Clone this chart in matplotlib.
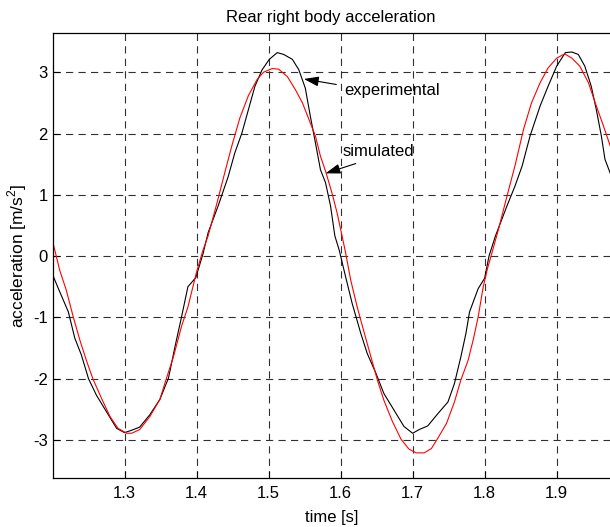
import matplotlib
matplotlib.use("Agg")
import matplotlib.pyplot as plt

# Experimental (black)
exp_t = [1.200, 1.210, 1.222, 1.231, 1.240, 1.250, 1.261, 1.275, 1.289, 1.300,
         1.310, 1.321, 1.335, 1.349, 1.361, 1.370, 1.379, 1.388, 1.399, 1.409,
         1.416, 1.430, 1.444, 1.453, 1.463, 1.472, 1.481, 1.491, 1.501, 1.512,
         1.521, 1.533, 1.542, 1.551, 1.558, 1.565, 1.572, 1.579, 1.586, 1.592,
         1.598, 1.607, 1.616, 1.628, 1.637, 1.649, 1.660, 1.674, 1.688, 1.700,
         1.709, 1.721, 1.735, 1.749, 1.758, 1.767, 1.774, 1.779, 1.791, 1.800,
         1.806, 1.815, 1.831, 1.842, 1.852, 1.863, 1.877, 1.888, 1.900, 1.912,
         1.921, 1.930, 1.939, 1.948, 1.955, 1.962, 1.967, 1.976]
exp_a = [-0.30, -0.58, -0.91, -1.34, -1.61, -2.00, -2.27, -2.54, -2.81, -2.88,
         -2.84, -2.79, -2.59, -2.34, -1.99, -1.48, -1.00, -0.50, -0.35, 0.04,
         0.38, 0.82, 1.30, 1.68, 2.01, 2.39, 2.77, 3.04, 3.21, 3.32,
         3.29, 3.21, 3.04, 2.74, 2.28, 1.85, 1.41, 1.20, 0.82, 0.33,
         0.10, -0.34, -0.77, -1.26, -1.59, -1.91, -2.24, -2.51, -2.78, -2.89,
         -2.83, -2.77, -2.57, -2.38, -2.08, -1.64, -1.26, -0.91, -0.53, -0.36,
         0.00, 0.33, 0.82, 1.14, 1.47, 1.96, 2.45, 2.77, 3.10, 3.32,
         3.33, 3.29, 3.10, 2.77, 2.39, 1.96, 1.58, 1.30]

# Simulated (red)
sim_t = [1.200, 1.210, 1.219, 1.229, 1.238, 1.247, 1.256, 1.268, 1.280, 1.291,
         1.303, 1.310, 1.321, 1.335, 1.349, 1.358, 1.368, 1.379, 1.388, 1.400,
         1.409, 1.416, 1.428, 1.440, 1.449, 1.460, 1.472, 1.484, 1.493, 1.505,
         1.514, 1.526, 1.537, 1.547, 1.556, 1.565, 1.572, 1.579, 1.588, 1.595,
         1.602, 1.607, 1.614, 1.623, 1.633, 1.642, 1.651, 1.660, 1.672, 1.684,
         1.695, 1.705, 1.716, 1.726, 1.735, 1.747, 1.758, 1.767, 1.777, 1.784,
         1.791, 1.798, 1.804, 1.810, 1.819, 1.831, 1.842, 1.854, 1.865, 1.877,
         1.888, 1.900, 1.911, 1.921, 1.932, 1.944, 1.955, 1.965, 1.976]
sim_a = [0.25, -0.23, -0.55, -1.00, -1.37, -1.70, -2.00, -2.32, -2.62, -2.81,
         -2.89, -2.89, -2.83, -2.62, -2.34, -2.00, -1.64, -1.15, -0.83, -0.26,
         0.10, 0.33, 0.85, 1.40, 1.80, 2.25, 2.62, 2.88, 3.00, 3.06,
         3.05, 2.93, 2.72, 2.50, 2.23, 1.96, 1.63, 1.39, 1.03, 0.71,
         0.33, 0.05, -0.39, -0.83, -1.26, -1.64, -2.02, -2.35, -2.70, -2.99,
         -3.15, -3.21, -3.21, -3.14, -2.97, -2.73, -2.38, -2.02, -1.70, -1.37,
         -0.99, -0.50, -0.20, 0.05, 0.43, 0.98, 1.47, 2.07, 2.50, 2.83,
         3.07, 3.23, 3.30, 3.23, 3.10, 2.83, 2.45, 2.12, 1.74]

x_ticks = [1.3, 1.4, 1.5, 1.6, 1.7, 1.8, 1.9]
y_ticks = [-3, -2, -1, 0, 1, 2, 3]

plt.rcParams['font.family'] = ['Liberation Sans', 'DejaVu Sans']
plt.rcParams['lines.scale_dashes'] = False
plt.rcParams['mathtext.fontset'] = 'custom'
plt.rcParams['mathtext.rm'] = 'Liberation Sans'

fig = plt.figure(figsize=(6.10, 5.27), dpi=100)
ax = fig.add_axes([52.5 / 610, 1 - 478 / 527, 1 - 52.5 / 610, (478 - 33) / 527])

ax.plot(exp_t, exp_a, color='black', lw=0.8)
ax.plot(sim_t, sim_a, color='red', lw=0.8)

ax.set_xlim(1.2, 1.974)
ax.set_ylim(-3.62, 3.64)
ax.set_xticks(x_ticks)
ax.set_yticks(y_ticks)
ax.set_xticklabels([f"{v:.1f}" for v in x_ticks])
ax.set_yticklabels([str(v) for v in y_ticks])
ax.tick_params(direction='in', length=5, width=0.8, labelsize=12)
ax.tick_params(axis='x', pad=6)
ax.tick_params(axis='y', pad=3.5)
ax.grid(True, color='#303030', lw=0.8, linestyle=(0, (5.2, 3.8)))
for s in ['left', 'bottom', 'top']:
    ax.spines[s].set_linewidth(0.9)
ax.spines['right'].set_visible(False)

ax.set_title('Rear right body acceleration', fontsize=12, pad=8)
ax.set_xlabel('time [s]', fontsize=12, labelpad=6)
ax.set_ylabel('acceleration [m/s$^\\mathregular{2}$]', fontsize=12.5, labelpad=2.5)

ap = dict(arrowstyle='-|>,head_length=0.9,head_width=0.3', color='black', lw=0.8,
          shrinkA=0, shrinkB=0)
ax.annotate('', xy=(1.549, 2.89), xytext=(1.594, 2.80), arrowprops=ap)
ax.text(1.6045, 2.71, 'experimental', fontsize=12, va='center', ha='left')
ax.annotate('', xy=(1.579, 1.35), xytext=(1.621, 1.51), arrowprops=ap)
ax.text(1.603, 1.70, 'simulated', fontsize=12, va='center', ha='left')

fig.savefig('out.png', dpi=100)
